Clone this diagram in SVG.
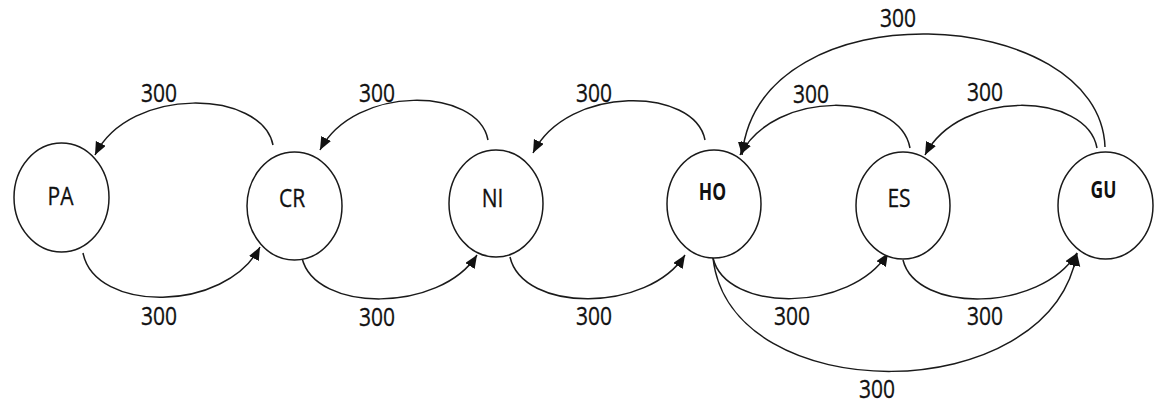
<svg xmlns="http://www.w3.org/2000/svg" width="1157" height="404" viewBox="0 0 1157 404">
<style>
.node{fill:#fff;stroke:#1a1a1a;stroke-width:1.5}
.edge{fill:none;stroke:#1a1a1a;stroke-width:1.5}
.lbl{font-family:"Open Sans","DejaVu Sans",sans-serif;font-size:21px;fill:#111;text-anchor:middle;stroke:#111;stroke-width:0.25}
.nl{font-family:"Open Sans","DejaVu Sans",sans-serif;font-size:21px;fill:#111;text-anchor:middle;stroke:#111;stroke-width:0.25}
.nb{font-family:"Open Sans","DejaVu Sans",sans-serif;font-size:17.5px;font-weight:bold;fill:#111;text-anchor:middle}
</style>
<defs>
<marker id="arr" markerUnits="userSpaceOnUse" markerWidth="14" markerHeight="12" refX="13" refY="5.5" orient="auto">
<path d="M0,0 L13,5.5 L0,11 z" fill="#111"/>
</marker>
</defs>
<g id="connectors">
<path class="edge" marker-end="url(#arr)" d="M273,145 C262,90 130,85 95,155"/>
<path class="edge" marker-end="url(#arr)" d="M488,140 C478,87 355,84 320,150"/>
<path class="edge" marker-end="url(#arr)" d="M705,140 C695,87 568,84 533,153"/>
<path class="edge" marker-end="url(#arr)" d="M83,253 C95,313 225,313 260,247"/>
<path class="edge" marker-end="url(#arr)" d="M302,258 C315,313 440,313 477,255"/>
<path class="edge" marker-end="url(#arr)" d="M510,257 C523,313 648,313 685,255"/>
<path class="edge" marker-end="url(#arr)" d="M713,258 C726,313 851,313 888,253"/>
<path class="edge" marker-end="url(#arr)" d="M903,260 C916,313 1040,313 1077,253"/>
<path class="edge" marker-end="url(#arr)" d="M713,258 C730,410 1050,410 1077,253"/>
<path class="edge" marker-end="url(#arr)" d="M910,148 C900,92 775,88 740,155"/>
<path class="edge" marker-end="url(#arr)" d="M1097,148 C1087,92 960,88 925,155"/>
<path class="edge" marker-end="url(#arr)" d="M1105,147 C1100,5 760,-15 742,155"/>
<g>
<text class="lbl" transform="translate(159,102) scale(1,1.25)">300</text>
<text class="lbl" transform="translate(377,102) scale(1,1.25)">300</text>
<text class="lbl" transform="translate(594,102) scale(1,1.25)">300</text>
<text class="lbl" transform="translate(811,103) scale(1,1.25)">300</text>
<text class="lbl" transform="translate(985,101) scale(1,1.25)">300</text>
<text class="lbl" transform="translate(898,27) scale(1,1.25)">300</text>
<text class="lbl" transform="translate(159,325) scale(1,1.25)">300</text>
<text class="lbl" transform="translate(377,326) scale(1,1.25)">300</text>
<text class="lbl" transform="translate(594,325) scale(1,1.25)">300</text>
<text class="lbl" transform="translate(792,325) scale(1,1.25)">300</text>
<text class="lbl" transform="translate(985,325) scale(1,1.25)">300</text>
<text class="lbl" transform="translate(877,398) scale(1,1.25)">300</text>
</g>
</g>
<g id="PA"><ellipse class="node" cx="61.5" cy="197.5" rx="47.5" ry="54.5"/><text class="nl" transform="translate(60.5,205) scale(1,1.25)">PA</text></g>
<g id="CR"><ellipse class="node" cx="294.5" cy="206" rx="47.5" ry="54"/><text class="nl" transform="translate(292,207) scale(1,1.25)">CR</text></g>
<g id="NI"><ellipse class="node" cx="496" cy="203.5" rx="47" ry="53.5"/><text class="nl" transform="translate(492.5,207) scale(1,1.25)">NI</text></g>
<g id="HO"><ellipse class="node" cx="714" cy="204" rx="47" ry="54"/><text class="nb" transform="translate(712.5,200) scale(1,1.3)">HO</text></g>
<g id="ES"><ellipse class="node" cx="903" cy="205.5" rx="47" ry="53.5"/><text class="nl" transform="translate(899,207) scale(1,1.25)">ES</text></g>
<g id="GU"><ellipse class="node" cx="1105.5" cy="205.5" rx="47.5" ry="53.5"/><text class="nb" transform="translate(1103.5,198) scale(1,1.3)">GU</text></g>
</svg>
